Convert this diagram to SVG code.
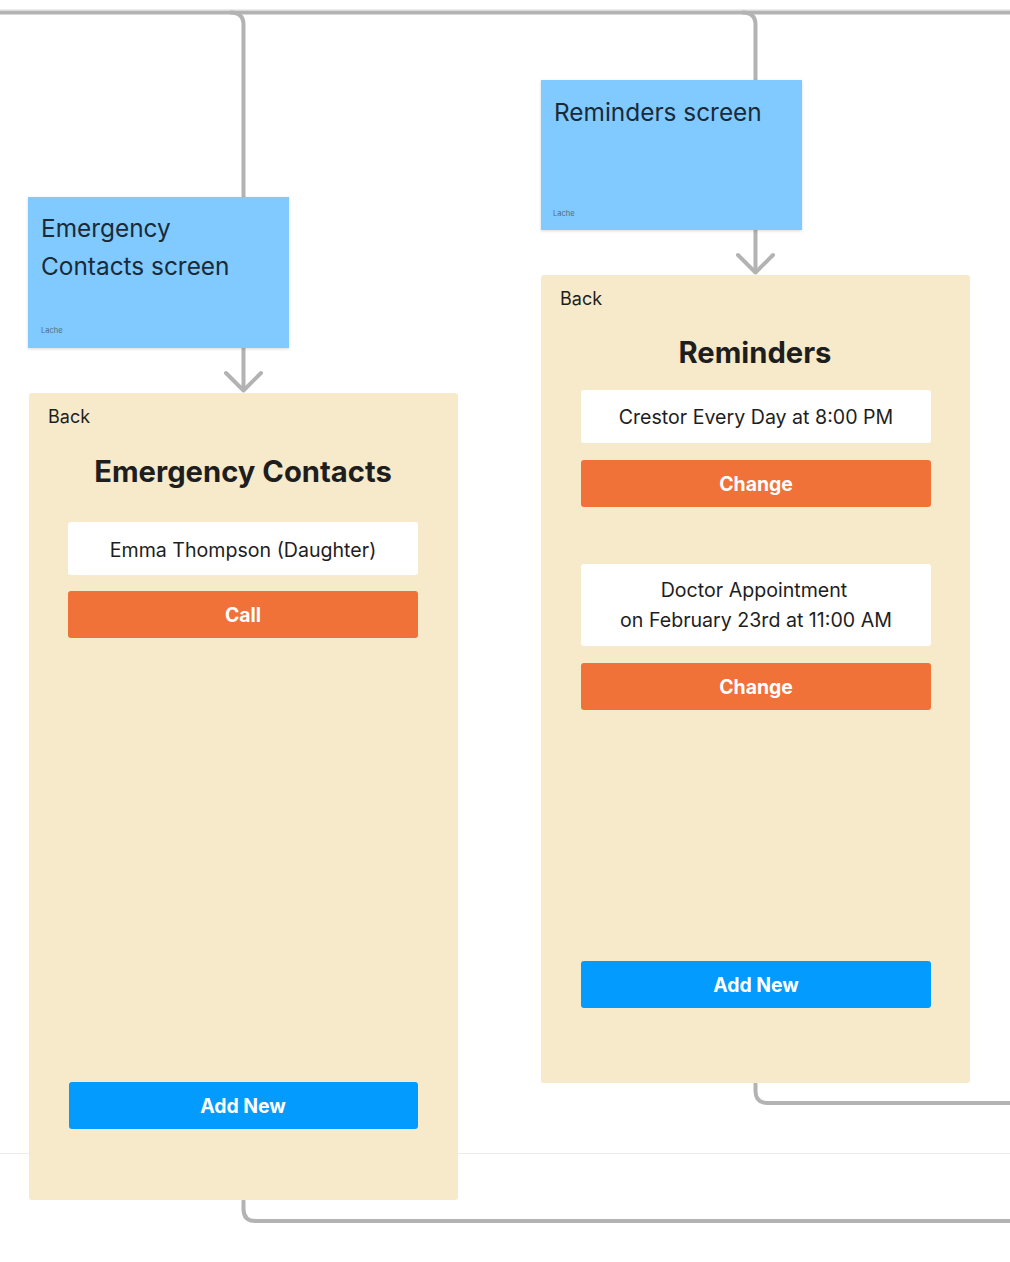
<svg xmlns="http://www.w3.org/2000/svg" width="1010" height="1262" viewBox="0 0 1010 1262">
<defs>
<style>
.con{fill:none;stroke:#b3b3b3;stroke-width:4;stroke-linecap:round;stroke-linejoin:round}
.faint{stroke:#ececec;stroke-width:1;fill:none}
.sticky{fill:#80caff}
.stxt{font-family:Inter,"Noto Sans",sans-serif;font-size:24.4px;fill:#1a2a38}
.small{font-family:Inter,"Noto Sans",sans-serif;font-size:7.5px;fill:#4f6a84}
.screen{fill:#f7eaca}
.back{font-family:Inter,"Noto Sans",sans-serif;font-size:18px;fill:#1e1e1e}
.title{font-family:Inter,"Noto Sans",sans-serif;font-size:29.2px;font-weight:700;fill:#1e1e1e;text-anchor:middle}
.card{fill:#ffffff}
.ctxt{font-family:Inter,"Noto Sans",sans-serif;font-size:19.6px;fill:#1e1e1e;text-anchor:middle}
.orange{fill:#f07238}
.blue{fill:#039bfd}
.btxt{font-family:Inter,"Noto Sans",sans-serif;font-size:19.4px;font-weight:700;fill:#ffffff;text-anchor:middle}
</style>
<filter id="sh" x="-10%" y="-10%" width="120%" height="130%">
<feDropShadow dx="0" dy="1" stdDeviation="1.5" flood-color="#000" flood-opacity="0.15"/>
</filter>
</defs>
<rect width="1010" height="1262" fill="#ffffff"/>
<line class="faint" x1="0" y1="9.5" x2="1010" y2="9.5"/>
<line class="faint" x1="0" y1="1153.5" x2="1010" y2="1153.5"/>
<g id="connectors">
<path class="con" d="M0 12.5 H1010"/>
<path class="con" d="M231 12.5 Q243.5 12.5 243.5 25 V390"/>
<path class="con" d="M226 373 L243.5 390.5 L261 373"/>
<path class="con" d="M743 12.5 Q755.5 12.5 755.5 25 V272"/>
<path class="con" d="M738 255 L755.5 272.5 L773 255"/>
<path class="con" d="M755.5 1084 V1091 Q755.5 1103 767.5 1103 H1010"/>
<path class="con" d="M243.5 1201 V1209 Q243.5 1221 255.5 1221 H1010"/>
</g>
<g id="node-ec-sticky">
<rect class="sticky" x="28" y="197" width="261" height="151" filter="url(#sh)"/>
<text class="stxt" x="41" y="237">Emergency</text>
<text class="stxt" x="41" y="275">Contacts screen</text>
<text class="small" x="41" y="333">Lache</text>
</g>
<g id="node-rem-sticky">
<rect class="sticky" x="541" y="80" width="261" height="150" filter="url(#sh)"/>
<text class="stxt" x="554" y="121">Reminders screen</text>
<text class="small" x="553" y="216">Lache</text>
</g>
<g id="node-ec-screen">
<rect class="screen" x="29" y="393" width="429" height="807" rx="3"/>
<text class="back" x="48" y="423">Back</text>
<text class="title" x="243" y="482">Emergency Contacts</text>
<rect class="card" x="68" y="522" width="350" height="53" rx="3"/>
<text class="ctxt" x="243" y="557">Emma Thompson (Daughter)</text>
<rect class="orange" x="68" y="591" width="350" height="47" rx="3"/>
<text class="btxt" x="243" y="622">Call</text>
<rect class="blue" x="69" y="1082" width="349" height="47" rx="3"/>
<text class="btxt" x="243" y="1113">Add New</text>
</g>
<g id="node-rem-screen">
<rect class="screen" x="541" y="275" width="429" height="808" rx="3"/>
<text class="back" x="560" y="305">Back</text>
<text class="title" x="755" y="363">Reminders</text>
<rect class="card" x="581" y="390" width="350" height="53" rx="3"/>
<text class="ctxt" x="756" y="424">Crestor Every Day at 8:00 PM</text>
<rect class="orange" x="581" y="460" width="350" height="47" rx="3"/>
<text class="btxt" x="756" y="491">Change</text>
<rect class="card" x="581" y="564" width="350" height="82" rx="3"/>
<text class="ctxt" x="754" y="597">Doctor Appointment</text>
<text class="ctxt" x="756" y="627">on February 23rd at 11:00 AM</text>
<rect class="orange" x="581" y="663" width="350" height="47" rx="3"/>
<text class="btxt" x="756" y="694">Change</text>
<rect class="blue" x="581" y="961" width="350" height="47" rx="3"/>
<text class="btxt" x="756" y="992">Add New</text>
</g>
</svg>
